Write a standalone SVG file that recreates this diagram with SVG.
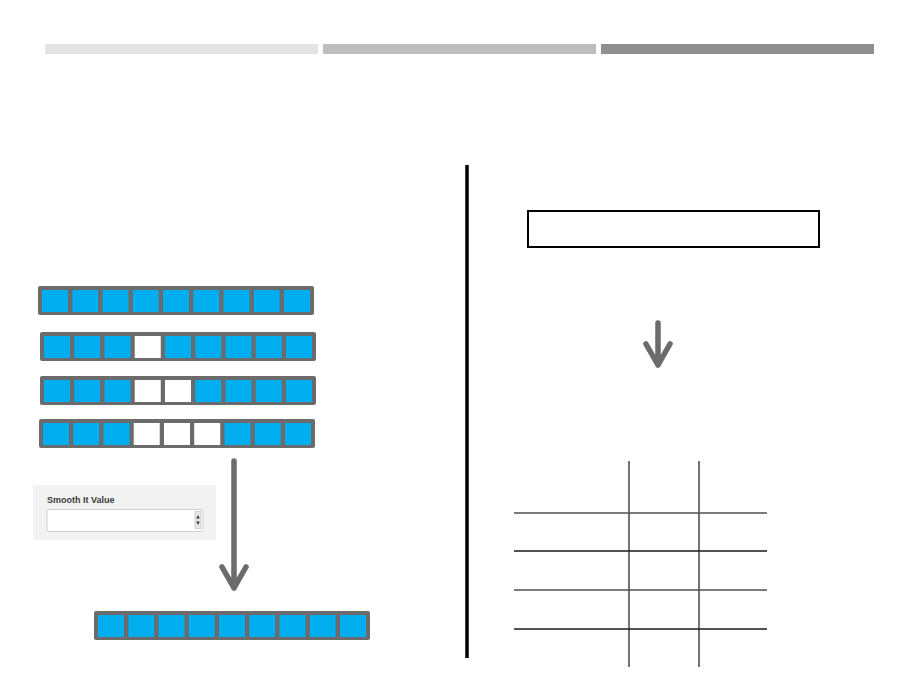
<svg xmlns="http://www.w3.org/2000/svg" xmlns:xlink="http://www.w3.org/1999/xlink" width="919" height="690" viewBox="0 0 919 690">
  <style>
    .frame { fill: #6b6b6b; }
    .cell { fill: #00adef; }
    .empty { fill: #ffffff; }
    .arrow { fill: none; stroke: #6b6b6b; stroke-width: 5.5; stroke-linecap: round; stroke-linejoin: round; }
    .grid { stroke: #505050; stroke-width: 1.6; }
    .gridd { stroke: #1a1a1a; stroke-width: 1.6; }
    .label { font-family: "Liberation Sans", Arial, sans-serif; font-weight: bold; font-size: 9px; fill: #3a3a3a; }
  </style>
  <defs>
    <rect id="c" width="26" height="22" class="cell"/>
    <rect id="w" width="26" height="22" class="empty"/>
    <rect id="fr" width="276" height="29" rx="2" class="frame"/>
  </defs>
  <rect width="919" height="690" fill="#ffffff"/>

  <g id="progress">
    <rect x="45" y="44" width="273" height="10" fill="#e3e3e3"/>
    <rect x="323" y="44" width="273" height="10" fill="#bdbdbd"/>
    <rect x="601" y="44" width="273" height="10" fill="#8f8f8f"/>
  </g>

  <g id="row1" transform="translate(38,286)">
    <use xlink:href="#fr"/>
    <use xlink:href="#c" x="4" y="4"/><use xlink:href="#c" x="34.25" y="4"/><use xlink:href="#c" x="64.5" y="4"/>
    <use xlink:href="#c" x="94.75" y="4"/><use xlink:href="#c" x="125" y="4"/><use xlink:href="#c" x="155.25" y="4"/>
    <use xlink:href="#c" x="185.5" y="4"/><use xlink:href="#c" x="215.75" y="4"/><use xlink:href="#c" x="246" y="4"/>
  </g>
  <g id="row2" transform="translate(40,332)">
    <use xlink:href="#fr"/>
    <use xlink:href="#c" x="4" y="4"/><use xlink:href="#c" x="34.25" y="4"/><use xlink:href="#c" x="64.5" y="4"/>
    <use xlink:href="#w" x="94.75" y="4"/><use xlink:href="#c" x="125" y="4"/><use xlink:href="#c" x="155.25" y="4"/>
    <use xlink:href="#c" x="185.5" y="4"/><use xlink:href="#c" x="215.75" y="4"/><use xlink:href="#c" x="246" y="4"/>
  </g>
  <g id="row3" transform="translate(40,376)">
    <use xlink:href="#fr"/>
    <use xlink:href="#c" x="4" y="4"/><use xlink:href="#c" x="34.25" y="4"/><use xlink:href="#c" x="64.5" y="4"/>
    <use xlink:href="#w" x="94.75" y="4"/><use xlink:href="#w" x="125" y="4"/><use xlink:href="#c" x="155.25" y="4"/>
    <use xlink:href="#c" x="185.5" y="4"/><use xlink:href="#c" x="215.75" y="4"/><use xlink:href="#c" x="246" y="4"/>
  </g>
  <g id="row4" transform="translate(39,419)">
    <use xlink:href="#fr"/>
    <use xlink:href="#c" x="4" y="4"/><use xlink:href="#c" x="34.25" y="4"/><use xlink:href="#c" x="64.5" y="4"/>
    <use xlink:href="#w" x="94.75" y="4"/><use xlink:href="#w" x="125" y="4"/><use xlink:href="#w" x="155.25" y="4"/>
    <use xlink:href="#c" x="185.5" y="4"/><use xlink:href="#c" x="215.75" y="4"/><use xlink:href="#c" x="246" y="4"/>
  </g>

  <g id="smooth-panel">
    <rect x="33" y="485" width="183" height="55" fill="#f2f2f2"/>
    <text class="label" x="47" y="503">Smooth It Value</text>
    <rect x="47" y="509.5" width="156" height="22" rx="2" fill="#ffffff" stroke="#d0d0d0" stroke-width="1"/>
    <rect x="195" y="511.5" width="6" height="17" fill="#e6e6e6" stroke="#bdbdbd" stroke-width="0.6"/>
    <path d="M196.3 518.5 L198 515 L199.7 518.5 Z M196.3 521.5 L198 525 L199.7 521.5 Z" fill="#333"/>
  </g>

  <g id="row-result" transform="translate(94,611)">
    <use xlink:href="#fr"/>
    <use xlink:href="#c" x="4" y="4"/><use xlink:href="#c" x="34.25" y="4"/><use xlink:href="#c" x="64.5" y="4"/>
    <use xlink:href="#c" x="94.75" y="4"/><use xlink:href="#c" x="125" y="4"/><use xlink:href="#c" x="155.25" y="4"/>
    <use xlink:href="#c" x="185.5" y="4"/><use xlink:href="#c" x="215.75" y="4"/><use xlink:href="#c" x="246" y="4"/>
  </g>

  <g id="divider">
    <line x1="467" y1="165" x2="467" y2="658" stroke="#000" stroke-width="3.5"/>
  </g>

  <g id="input-box">
    <rect x="528" y="211" width="291" height="36" fill="#ffffff" stroke="#000" stroke-width="2"/>
  </g>

  <g id="table">
    <line class="grid" x1="629" y1="461" x2="629" y2="667"/>
    <line class="grid" x1="699" y1="461" x2="699" y2="667"/>
    <line class="grid" x1="514" y1="513" x2="767" y2="513"/>
    <line class="gridd" x1="514" y1="551" x2="767" y2="551"/>
    <line class="grid" x1="514" y1="590" x2="767" y2="590"/>
    <line class="gridd" x1="514" y1="629" x2="767" y2="629"/>
  </g>

  <g id="connectors">
    <path class="arrow" d="M234 461 L234 588 M222 567 L234 588 L246 567"/>
    <path class="arrow" d="M658 323 L658 365 M646 344 L658 365 L670 344"/>
  </g>
</svg>
